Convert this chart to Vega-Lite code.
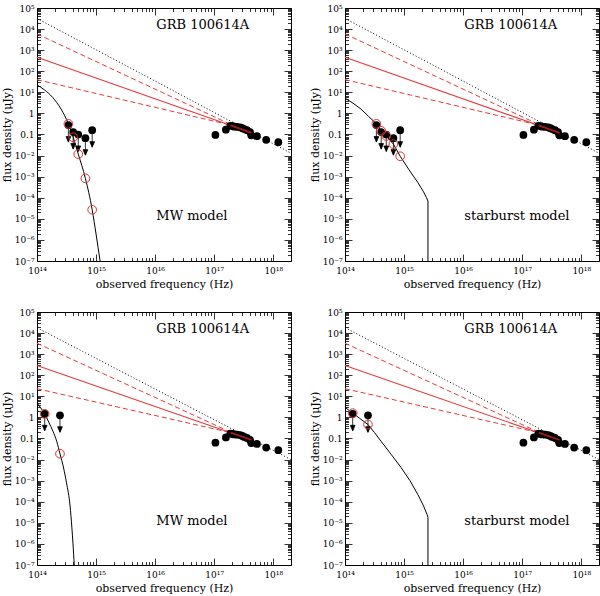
{
"$schema": "https://vega.github.io/schema/vega-lite/v6.json",
"padding": {"left": 0, "top": 3, "right": 0, "bottom": 0},
"background": "white",
"config": {
  "view": {"stroke": "black", "strokeWidth": 1},
  "font": "DejaVu Serif",
  "axis": {"grid": false, "domain": false, "tickColor": "black", "tickWidth": 0.8, "labelFont": "DejaVu Serif", "labelFontSize": 9, "labelColor": "black", "titleFont": "DejaVu Serif", "titleFontSize": 11, "titleFontWeight": "normal", "titleColor": "black", "labelFlush": false, "labelOverlap": false}
},
"columns": 2,
"spacing": {"row": 51, "column": 54},
"bounds": "flush",
"datasets": {
  "models": [
    {"set": "A", "series": "dotted", "nu": 1e14, "flux": 32000},
    {"set": "A", "series": "dotted", "nu": 2e18, "flux": 0.013},
    {"set": "A", "series": "upper", "nu": 1e14, "flux": 5900},
    {"set": "A", "series": "upper", "nu": 1.9e17, "flux": 0.3},
    {"set": "A", "series": "solid", "nu": 1e14, "flux": 457},
    {"set": "A", "series": "solid", "nu": 4.3e17, "flux": 0.12},
    {"set": "A", "series": "lower", "nu": 1e14, "flux": 40},
    {"set": "A", "series": "lower", "nu": 1.9e17, "flux": 0.28},
    {"set": "A", "series": "xfit", "nu": 1.9e17, "flux": 0.27},
    {"set": "A", "series": "xfit", "nu": 4.3e17, "flux": 0.12},
    {"set": "B", "series": "dotted", "nu": 1e14, "flux": 18000},
    {"set": "B", "series": "dotted", "nu": 2e18, "flux": 0.010},
    {"set": "B", "series": "upper", "nu": 1e14, "flux": 3300},
    {"set": "B", "series": "upper", "nu": 1.9e17, "flux": 0.2},
    {"set": "B", "series": "solid", "nu": 1e14, "flux": 290},
    {"set": "B", "series": "solid", "nu": 4.3e17, "flux": 0.085},
    {"set": "B", "series": "lower", "nu": 1e14, "flux": 23},
    {"set": "B", "series": "lower", "nu": 1.9e17, "flux": 0.19},
    {"set": "B", "series": "xfit", "nu": 1.9e17, "flux": 0.19},
    {"set": "B", "series": "xfit", "nu": 4.3e17, "flux": 0.085}
  ],
  "xray": [
    {"set": "A", "nu": 1.05e17, "flux": 0.095}, {"set": "A", "nu": 1.58e17, "flux": 0.17}, {"set": "A", "nu": 1.88e17, "flux": 0.26},
    {"set": "A", "nu": 2.05e17, "flux": 0.25}, {"set": "A", "nu": 2.19e17, "flux": 0.235}, {"set": "A", "nu": 2.45e17, "flux": 0.23},
    {"set": "A", "nu": 2.77e17, "flux": 0.22}, {"set": "A", "nu": 3.0e17, "flux": 0.2}, {"set": "A", "nu": 3.23e17, "flux": 0.18},
    {"set": "A", "nu": 3.6e17, "flux": 0.16}, {"set": "A", "nu": 4.05e17, "flux": 0.13}, {"set": "A", "nu": 4.25e17, "flux": 0.092},
    {"set": "A", "nu": 5.3e17, "flux": 0.083}, {"set": "A", "nu": 7.6e17, "flux": 0.056}, {"set": "A", "nu": 1.22e18, "flux": 0.043},
    {"set": "B", "nu": 1.05e17, "flux": 0.063}, {"set": "B", "nu": 1.58e17, "flux": 0.112}, {"set": "B", "nu": 1.88e17, "flux": 0.172},
    {"set": "B", "nu": 2.05e17, "flux": 0.165}, {"set": "B", "nu": 2.19e17, "flux": 0.155}, {"set": "B", "nu": 2.45e17, "flux": 0.152},
    {"set": "B", "nu": 2.77e17, "flux": 0.145}, {"set": "B", "nu": 3.0e17, "flux": 0.132}, {"set": "B", "nu": 3.23e17, "flux": 0.119},
    {"set": "B", "nu": 3.6e17, "flux": 0.106}, {"set": "B", "nu": 4.05e17, "flux": 0.086}, {"set": "B", "nu": 4.25e17, "flux": 0.061},
    {"set": "B", "nu": 5.3e17, "flux": 0.055}, {"set": "B", "nu": 7.6e17, "flux": 0.037}, {"set": "B", "nu": 1.22e18, "flux": 0.028}
  ],
  "limits": [
    {"set": "A", "nu": 3.4e14, "flux": 0.28}, {"set": "A", "nu": 4.1e14, "flux": 0.13}, {"set": "A", "nu": 5.0e14, "flux": 0.1},
    {"set": "A", "nu": 6.6e14, "flux": 0.067}, {"set": "A", "nu": 8.6e14, "flux": 0.16},
    {"set": "B", "nu": 1.35e14, "flux": 1.48}, {"set": "B", "nu": 2.45e14, "flux": 1.26}
  ],
  "circles": [
    {"panel": 1, "nu": 3.4e14, "flux": 0.32}, {"panel": 1, "nu": 4.1e14, "flux": 0.074}, {"panel": 1, "nu": 5.0e14, "flux": 0.0117},
    {"panel": 1, "nu": 6.6e14, "flux": 0.00083}, {"panel": 1, "nu": 8.6e14, "flux": 0.000027},
    {"panel": 2, "nu": 3.4e14, "flux": 0.32}, {"panel": 2, "nu": 4.1e14, "flux": 0.15}, {"panel": 2, "nu": 5.0e14, "flux": 0.085},
    {"panel": 2, "nu": 6.6e14, "flux": 0.035}, {"panel": 2, "nu": 8.6e14, "flux": 0.0093},
    {"panel": 3, "nu": 1.35e14, "flux": 1.48}, {"panel": 3, "nu": 2.45e14, "flux": 0.019},
    {"panel": 4, "nu": 1.35e14, "flux": 1.6}, {"panel": 4, "nu": 2.45e14, "flux": 0.46}
  ],
  "curve": [
    {"panel": 1, "nu": 1e14, "flux": 22.4}, {"panel": 1, "nu": 1.33e14, "flux": 13.3}, {"panel": 1, "nu": 1.84e14, "flux": 5.75},
    {"panel": 1, "nu": 2.55e14, "flux": 1.62}, {"panel": 1, "nu": 3.4e14, "flux": 0.32}, {"panel": 1, "nu": 4.1e14, "flux": 0.074},
    {"panel": 1, "nu": 5.0e14, "flux": 0.0117}, {"panel": 1, "nu": 6.6e14, "flux": 0.00083}, {"panel": 1, "nu": 8.6e14, "flux": 0.000027},
    {"panel": 1, "nu": 1e15, "flux": 0.0000019}, {"panel": 1, "nu": 1.17e15, "flux": 1e-7},
    {"panel": 2, "nu": 1e14, "flux": 5.25}, {"panel": 2, "nu": 1.36e14, "flux": 3.09}, {"panel": 2, "nu": 1.86e14, "flux": 1.62},
    {"panel": 2, "nu": 2.51e14, "flux": 0.72}, {"panel": 2, "nu": 3.4e14, "flux": 0.32}, {"panel": 2, "nu": 4.1e14, "flux": 0.15},
    {"panel": 2, "nu": 5.0e14, "flux": 0.085}, {"panel": 2, "nu": 6.6e14, "flux": 0.035}, {"panel": 2, "nu": 8.6e14, "flux": 0.0093},
    {"panel": 2, "nu": 1.2e15, "flux": 0.00224}, {"panel": 2, "nu": 1.7e15, "flux": 0.00054}, {"panel": 2, "nu": 2.14e15, "flux": 0.00019},
    {"panel": 2, "nu": 2.4e15, "flux": 0.0001}, {"panel": 2, "nu": 2.54e15, "flux": 0.00007}, {"panel": 2, "nu": 2.54e15, "flux": 1e-7},
    {"panel": 3, "nu": 1e14, "flux": 4.9}, {"panel": 3, "nu": 1.15e14, "flux": 2.88}, {"panel": 3, "nu": 1.35e14, "flux": 1.48},
    {"panel": 3, "nu": 1.58e14, "flux": 0.6}, {"panel": 3, "nu": 1.86e14, "flux": 0.224}, {"panel": 3, "nu": 2.16e14, "flux": 0.0724},
    {"panel": 3, "nu": 2.45e14, "flux": 0.019}, {"panel": 3, "nu": 2.82e14, "flux": 0.004}, {"panel": 3, "nu": 3.16e14, "flux": 0.00079},
    {"panel": 3, "nu": 3.63e14, "flux": 0.000063}, {"panel": 3, "nu": 3.89e14, "flux": 0.0000063}, {"panel": 3, "nu": 4.07e14, "flux": 0.000001},
    {"panel": 3, "nu": 4.27e14, "flux": 1e-7},
    {"panel": 4, "nu": 1e14, "flux": 3.02}, {"panel": 4, "nu": 1.35e14, "flux": 1.62}, {"panel": 4, "nu": 1.78e14, "flux": 0.89},
    {"panel": 4, "nu": 2.45e14, "flux": 0.46}, {"panel": 4, "nu": 3.16e14, "flux": 0.19}, {"panel": 4, "nu": 4.07e14, "flux": 0.074},
    {"panel": 4, "nu": 6.03e14, "flux": 0.0178}, {"panel": 4, "nu": 8.91e14, "flux": 0.00417}, {"panel": 4, "nu": 1.26e15, "flux": 0.001},
    {"panel": 4, "nu": 1.7e15, "flux": 0.000229}, {"panel": 4, "nu": 2.14e15, "flux": 0.000063}, {"panel": 4, "nu": 2.45e15, "flux": 0.000025},
    {"panel": 4, "nu": 2.54e15, "flux": 0.000018}, {"panel": 4, "nu": 2.54e15, "flux": 1e-7}
  ]
},
"concat": [
{
  "width": 254, "height": 253,
  "resolve": {"axis": {"x": "independent", "y": "independent"}},
  "layer": [
    {"data": {"name": "models"}, "transform": [{"filter": "datum.set == 'A' && datum.series == 'dotted'"}],
     "mark": {"type": "line", "color": "black", "strokeWidth": 1, "strokeDash": [1, 2.2]},
     "encoding": {
       "x": {"field": "nu", "type": "quantitative", "scale": {"type": "log", "domain": [1e14, 2e18], "nice": false},
             "axis": {"orient": "bottom", "values": [1e14,2e14,3e14,4e14,5e14,6e14,7e14,8e14,9e14,1e15,2e15,3e15,4e15,5e15,6e15,7e15,8e15,9e15,1e16,2e16,3e16,4e16,5e16,6e16,7e16,8e16,9e16,1e17,2e17,3e17,4e17,5e17,6e17,7e17,8e17,9e17,1e18,2e18],
                      "labelExpr": "datum.value == 1e14 ? '10¹⁴' : datum.value == 1e15 ? '10¹⁵' : datum.value == 1e16 ? '10¹⁶' : datum.value == 1e17 ? '10¹⁷' : datum.value == 1e18 ? '10¹⁸' : ''",
                      "title": "observed frequency (Hz)",
                      "tickSize": {"condition": {"test": "indexof([1e14,1e15,1e16,1e17,1e18], datum.value) >= 0", "value": -7}, "value": -3.5},
                      "labelPadding": 12, "titlePadding": 0}},
       "y": {"field": "flux", "type": "quantitative", "scale": {"type": "log", "domain": [1e-7, 100000], "nice": false},
             "axis": {"orient": "left", "values": [1e-7,2e-7,3e-7,4e-7,5e-7,6e-7,7e-7,8e-7,9e-7,1e-6,2e-6,3e-6,4e-6,5e-6,6e-6,7e-6,8e-6,9e-6,1e-5,2e-5,3e-5,4e-5,5e-5,6e-5,7e-5,8e-5,9e-5,1e-4,2e-4,3e-4,4e-4,5e-4,6e-4,7e-4,8e-4,9e-4,1e-3,2e-3,3e-3,4e-3,5e-3,6e-3,7e-3,8e-3,9e-3,1e-2,2e-2,3e-2,4e-2,5e-2,6e-2,7e-2,8e-2,9e-2,0.1,0.2,0.3,0.4,0.5,0.6,0.7,0.8,0.9,1,2,3,4,5,6,7,8,9,10,20,30,40,50,60,70,80,90,100,200,300,400,500,600,700,800,900,1000,2000,3000,4000,5000,6000,7000,8000,9000,10000,20000,30000,40000,50000,60000,70000,80000,90000,100000],
                      "labelExpr": "datum.value == 100000 ? '10⁵' : datum.value == 10000 ? '10⁴' : datum.value == 1000 ? '10³' : datum.value == 100 ? '10²' : datum.value == 10 ? '10¹' : datum.value == 1 ? '1' : datum.value == 0.1 ? '0.1' : datum.value == 0.01 ? '10⁻²' : datum.value == 0.001 ? '10⁻³' : datum.value == 0.0001 ? '10⁻⁴' : datum.value == 0.00001 ? '10⁻⁵' : datum.value == 0.000001 ? '10⁻⁶' : datum.value == 1e-7 ? '10⁻⁷' : ''",
                      "title": "flux density (μJy)",
                      "tickSize": {"condition": {"test": "indexof([1e-7,1e-6,1e-5,1e-4,1e-3,1e-2,0.1,1,10,100,1000,10000,100000], datum.value) >= 0", "value": -7}, "value": -3.5},
                      "labelPadding": 10, "titlePadding": 2}}}},
    {"data": {"name": "models"}, "transform": [{"filter": "datum.set == 'A' && (datum.series == 'upper' || datum.series == 'lower')"}],
     "mark": {"type": "line", "color": "#e33b3b", "strokeWidth": 1, "strokeDash": [5, 3]},
     "encoding": {"x": {"field": "nu", "type": "quantitative", "scale": {"type": "log", "domain": [1e14, 2e18], "nice": false}, "axis": null},
                  "y": {"field": "flux", "type": "quantitative", "scale": {"type": "log", "domain": [1e-7, 100000], "nice": false}, "axis": null},
                  "detail": {"field": "series"}}},
    {"data": {"name": "models"}, "transform": [{"filter": "datum.set == 'A' && datum.series == 'solid'"}],
     "mark": {"type": "line", "color": "#e33b3b", "strokeWidth": 1.1},
     "encoding": {"x": {"field": "nu", "type": "quantitative", "scale": {"type": "log", "domain": [1e14, 2e18], "nice": false}, "axis": null},
                  "y": {"field": "flux", "type": "quantitative", "scale": {"type": "log", "domain": [1e-7, 100000], "nice": false}, "axis": null}}},
    {"data": {"name": "curve"}, "transform": [{"filter": "datum.panel == 1"}],
     "mark": {"type": "line", "color": "black", "strokeWidth": 1, "interpolate": "monotone"},
     "encoding": {
       "x": {"field": "nu", "type": "quantitative", "scale": {"type": "log", "domain": [1e14, 2e18], "nice": false},
             "axis": {"orient": "top", "values": [1e14,2e14,3e14,4e14,5e14,6e14,7e14,8e14,9e14,1e15,2e15,3e15,4e15,5e15,6e15,7e15,8e15,9e15,1e16,2e16,3e16,4e16,5e16,6e16,7e16,8e16,9e16,1e17,2e17,3e17,4e17,5e17,6e17,7e17,8e17,9e17,1e18,2e18],
                      "labels": false, "title": null,
                      "tickSize": {"condition": {"test": "indexof([1e14,1e15,1e16,1e17,1e18], datum.value) >= 0", "value": -7}, "value": -3.5}}},
       "y": {"field": "flux", "type": "quantitative", "scale": {"type": "log", "domain": [1e-7, 100000], "nice": false},
             "axis": {"orient": "right", "values": [1e-7,2e-7,3e-7,4e-7,5e-7,6e-7,7e-7,8e-7,9e-7,1e-6,2e-6,3e-6,4e-6,5e-6,6e-6,7e-6,8e-6,9e-6,1e-5,2e-5,3e-5,4e-5,5e-5,6e-5,7e-5,8e-5,9e-5,1e-4,2e-4,3e-4,4e-4,5e-4,6e-4,7e-4,8e-4,9e-4,1e-3,2e-3,3e-3,4e-3,5e-3,6e-3,7e-3,8e-3,9e-3,1e-2,2e-2,3e-2,4e-2,5e-2,6e-2,7e-2,8e-2,9e-2,0.1,0.2,0.3,0.4,0.5,0.6,0.7,0.8,0.9,1,2,3,4,5,6,7,8,9,10,20,30,40,50,60,70,80,90,100,200,300,400,500,600,700,800,900,1000,2000,3000,4000,5000,6000,7000,8000,9000,10000,20000,30000,40000,50000,60000,70000,80000,90000,100000],
                      "labels": false, "title": null,
                      "tickSize": {"condition": {"test": "indexof([1e-7,1e-6,1e-5,1e-4,1e-3,1e-2,0.1,1,10,100,1000,10000,100000], datum.value) >= 0", "value": -7}, "value": -3.5}}},
       "order": {"value": null}}},
    {"data": {"name": "xray"}, "transform": [{"filter": "datum.set == 'A'"}],
     "mark": {"type": "point", "shape": "circle", "filled": true, "color": "black", "size": 60, "opacity": 1},
     "encoding": {"x": {"field": "nu", "type": "quantitative", "scale": {"type": "log", "domain": [1e14, 2e18], "nice": false}, "axis": null},
                  "y": {"field": "flux", "type": "quantitative", "scale": {"type": "log", "domain": [1e-7, 100000], "nice": false}, "axis": null}}},
    {"data": {"name": "limits"}, "transform": [{"filter": "datum.set == 'A'"}],
     "mark": {"type": "point", "shape": "M0,0L0,2M-0.28,1.35L0,2L0.28,1.35Z", "size": 289, "fill": "black", "stroke": "black", "strokeWidth": 0.8, "opacity": 1},
     "encoding": {"x": {"field": "nu", "type": "quantitative", "scale": {"type": "log", "domain": [1e14, 2e18], "nice": false}, "axis": null},
                  "y": {"field": "flux", "type": "quantitative", "scale": {"type": "log", "domain": [1e-7, 100000], "nice": false}, "axis": null}}},
    {"data": {"name": "limits"}, "transform": [{"filter": "datum.set == 'A'"}],
     "mark": {"type": "point", "shape": "circle", "filled": true, "color": "black", "size": 60, "opacity": 1},
     "encoding": {"x": {"field": "nu", "type": "quantitative", "scale": {"type": "log", "domain": [1e14, 2e18], "nice": false}, "axis": null},
                  "y": {"field": "flux", "type": "quantitative", "scale": {"type": "log", "domain": [1e-7, 100000], "nice": false}, "axis": null}}},
    {"data": {"name": "circles"}, "transform": [{"filter": "datum.panel == 1"}],
     "mark": {"type": "point", "shape": "circle", "filled": false, "color": "#e03030", "strokeWidth": 1, "size": 75, "opacity": 1},
     "encoding": {"x": {"field": "nu", "type": "quantitative", "scale": {"type": "log", "domain": [1e14, 2e18], "nice": false}, "axis": null},
                  "y": {"field": "flux", "type": "quantitative", "scale": {"type": "log", "domain": [1e-7, 100000], "nice": false}, "axis": null}}},
    {"data": {"name": "models"}, "transform": [{"filter": "datum.set == 'A' && datum.series == 'xfit'"}],
     "mark": {"type": "line", "color": "#a81818", "strokeWidth": 1.8},
     "encoding": {"x": {"field": "nu", "type": "quantitative", "scale": {"type": "log", "domain": [1e14, 2e18], "nice": false}, "axis": null},
                  "y": {"field": "flux", "type": "quantitative", "scale": {"type": "log", "domain": [1e-7, 100000], "nice": false}, "axis": null}}},
    {"data": {"values": [{"label": "GRB 100614A"}]},
     "mark": {"type": "text", "align": "left", "baseline": "middle", "fontSize": 13, "font": "DejaVu Serif", "color": "black"},
     "encoding": {"x": {"datum": 1.05e16, "type": "quantitative", "scale": {"type": "log", "domain": [1e14, 2e18], "nice": false}, "axis": null},
                  "y": {"datum": 16000, "type": "quantitative", "scale": {"type": "log", "domain": [1e-7, 100000], "nice": false}, "axis": null},
                  "text": {"field": "label"}}},
    {"data": {"values": [{"label": "MW model"}]},
     "mark": {"type": "text", "align": "left", "baseline": "middle", "fontSize": 13, "font": "DejaVu Serif", "color": "black"},
     "encoding": {"x": {"datum": 1.05e16, "type": "quantitative", "scale": {"type": "log", "domain": [1e14, 2e18], "nice": false}, "axis": null},
                  "y": {"datum": 0.000013, "type": "quantitative", "scale": {"type": "log", "domain": [1e-7, 100000], "nice": false}, "axis": null},
                  "text": {"field": "label"}}}
  ]
},
{
  "width": 254, "height": 253,
  "resolve": {"axis": {"x": "independent", "y": "independent"}},
  "layer": [
    {"data": {"name": "models"}, "transform": [{"filter": "datum.set == 'A' && datum.series == 'dotted'"}],
     "mark": {"type": "line", "color": "black", "strokeWidth": 1, "strokeDash": [1, 2.2]},
     "encoding": {
       "x": {"field": "nu", "type": "quantitative", "scale": {"type": "log", "domain": [1e14, 2e18], "nice": false},
             "axis": {"orient": "bottom", "values": [1e14,2e14,3e14,4e14,5e14,6e14,7e14,8e14,9e14,1e15,2e15,3e15,4e15,5e15,6e15,7e15,8e15,9e15,1e16,2e16,3e16,4e16,5e16,6e16,7e16,8e16,9e16,1e17,2e17,3e17,4e17,5e17,6e17,7e17,8e17,9e17,1e18,2e18],
                      "labelExpr": "datum.value == 1e14 ? '10¹⁴' : datum.value == 1e15 ? '10¹⁵' : datum.value == 1e16 ? '10¹⁶' : datum.value == 1e17 ? '10¹⁷' : datum.value == 1e18 ? '10¹⁸' : ''",
                      "title": "observed frequency (Hz)",
                      "tickSize": {"condition": {"test": "indexof([1e14,1e15,1e16,1e17,1e18], datum.value) >= 0", "value": -7}, "value": -3.5},
                      "labelPadding": 12, "titlePadding": 0}},
       "y": {"field": "flux", "type": "quantitative", "scale": {"type": "log", "domain": [1e-7, 100000], "nice": false},
             "axis": {"orient": "left", "values": [1e-7,2e-7,3e-7,4e-7,5e-7,6e-7,7e-7,8e-7,9e-7,1e-6,2e-6,3e-6,4e-6,5e-6,6e-6,7e-6,8e-6,9e-6,1e-5,2e-5,3e-5,4e-5,5e-5,6e-5,7e-5,8e-5,9e-5,1e-4,2e-4,3e-4,4e-4,5e-4,6e-4,7e-4,8e-4,9e-4,1e-3,2e-3,3e-3,4e-3,5e-3,6e-3,7e-3,8e-3,9e-3,1e-2,2e-2,3e-2,4e-2,5e-2,6e-2,7e-2,8e-2,9e-2,0.1,0.2,0.3,0.4,0.5,0.6,0.7,0.8,0.9,1,2,3,4,5,6,7,8,9,10,20,30,40,50,60,70,80,90,100,200,300,400,500,600,700,800,900,1000,2000,3000,4000,5000,6000,7000,8000,9000,10000,20000,30000,40000,50000,60000,70000,80000,90000,100000],
                      "labelExpr": "datum.value == 100000 ? '10⁵' : datum.value == 10000 ? '10⁴' : datum.value == 1000 ? '10³' : datum.value == 100 ? '10²' : datum.value == 10 ? '10¹' : datum.value == 1 ? '1' : datum.value == 0.1 ? '0.1' : datum.value == 0.01 ? '10⁻²' : datum.value == 0.001 ? '10⁻³' : datum.value == 0.0001 ? '10⁻⁴' : datum.value == 0.00001 ? '10⁻⁵' : datum.value == 0.000001 ? '10⁻⁶' : datum.value == 1e-7 ? '10⁻⁷' : ''",
                      "title": "flux density (μJy)",
                      "tickSize": {"condition": {"test": "indexof([1e-7,1e-6,1e-5,1e-4,1e-3,1e-2,0.1,1,10,100,1000,10000,100000], datum.value) >= 0", "value": -7}, "value": -3.5},
                      "labelPadding": 10, "titlePadding": 2}}}},
    {"data": {"name": "models"}, "transform": [{"filter": "datum.set == 'A' && (datum.series == 'upper' || datum.series == 'lower')"}],
     "mark": {"type": "line", "color": "#e33b3b", "strokeWidth": 1, "strokeDash": [5, 3]},
     "encoding": {"x": {"field": "nu", "type": "quantitative", "scale": {"type": "log", "domain": [1e14, 2e18], "nice": false}, "axis": null},
                  "y": {"field": "flux", "type": "quantitative", "scale": {"type": "log", "domain": [1e-7, 100000], "nice": false}, "axis": null},
                  "detail": {"field": "series"}}},
    {"data": {"name": "models"}, "transform": [{"filter": "datum.set == 'A' && datum.series == 'solid'"}],
     "mark": {"type": "line", "color": "#e33b3b", "strokeWidth": 1.1},
     "encoding": {"x": {"field": "nu", "type": "quantitative", "scale": {"type": "log", "domain": [1e14, 2e18], "nice": false}, "axis": null},
                  "y": {"field": "flux", "type": "quantitative", "scale": {"type": "log", "domain": [1e-7, 100000], "nice": false}, "axis": null}}},
    {"data": {"name": "curve"}, "transform": [{"filter": "datum.panel == 2"}],
     "mark": {"type": "line", "color": "black", "strokeWidth": 1},
     "encoding": {
       "x": {"field": "nu", "type": "quantitative", "scale": {"type": "log", "domain": [1e14, 2e18], "nice": false},
             "axis": {"orient": "top", "values": [1e14,2e14,3e14,4e14,5e14,6e14,7e14,8e14,9e14,1e15,2e15,3e15,4e15,5e15,6e15,7e15,8e15,9e15,1e16,2e16,3e16,4e16,5e16,6e16,7e16,8e16,9e16,1e17,2e17,3e17,4e17,5e17,6e17,7e17,8e17,9e17,1e18,2e18],
                      "labels": false, "title": null,
                      "tickSize": {"condition": {"test": "indexof([1e14,1e15,1e16,1e17,1e18], datum.value) >= 0", "value": -7}, "value": -3.5}}},
       "y": {"field": "flux", "type": "quantitative", "scale": {"type": "log", "domain": [1e-7, 100000], "nice": false},
             "axis": {"orient": "right", "values": [1e-7,2e-7,3e-7,4e-7,5e-7,6e-7,7e-7,8e-7,9e-7,1e-6,2e-6,3e-6,4e-6,5e-6,6e-6,7e-6,8e-6,9e-6,1e-5,2e-5,3e-5,4e-5,5e-5,6e-5,7e-5,8e-5,9e-5,1e-4,2e-4,3e-4,4e-4,5e-4,6e-4,7e-4,8e-4,9e-4,1e-3,2e-3,3e-3,4e-3,5e-3,6e-3,7e-3,8e-3,9e-3,1e-2,2e-2,3e-2,4e-2,5e-2,6e-2,7e-2,8e-2,9e-2,0.1,0.2,0.3,0.4,0.5,0.6,0.7,0.8,0.9,1,2,3,4,5,6,7,8,9,10,20,30,40,50,60,70,80,90,100,200,300,400,500,600,700,800,900,1000,2000,3000,4000,5000,6000,7000,8000,9000,10000,20000,30000,40000,50000,60000,70000,80000,90000,100000],
                      "labels": false, "title": null,
                      "tickSize": {"condition": {"test": "indexof([1e-7,1e-6,1e-5,1e-4,1e-3,1e-2,0.1,1,10,100,1000,10000,100000], datum.value) >= 0", "value": -7}, "value": -3.5}}},
       "order": {"value": null}}},
    {"data": {"name": "xray"}, "transform": [{"filter": "datum.set == 'A'"}],
     "mark": {"type": "point", "shape": "circle", "filled": true, "color": "black", "size": 60, "opacity": 1},
     "encoding": {"x": {"field": "nu", "type": "quantitative", "scale": {"type": "log", "domain": [1e14, 2e18], "nice": false}, "axis": null},
                  "y": {"field": "flux", "type": "quantitative", "scale": {"type": "log", "domain": [1e-7, 100000], "nice": false}, "axis": null}}},
    {"data": {"name": "limits"}, "transform": [{"filter": "datum.set == 'A'"}],
     "mark": {"type": "point", "shape": "M0,0L0,2M-0.28,1.35L0,2L0.28,1.35Z", "size": 289, "fill": "black", "stroke": "black", "strokeWidth": 0.8, "opacity": 1},
     "encoding": {"x": {"field": "nu", "type": "quantitative", "scale": {"type": "log", "domain": [1e14, 2e18], "nice": false}, "axis": null},
                  "y": {"field": "flux", "type": "quantitative", "scale": {"type": "log", "domain": [1e-7, 100000], "nice": false}, "axis": null}}},
    {"data": {"name": "limits"}, "transform": [{"filter": "datum.set == 'A'"}],
     "mark": {"type": "point", "shape": "circle", "filled": true, "color": "black", "size": 60, "opacity": 1},
     "encoding": {"x": {"field": "nu", "type": "quantitative", "scale": {"type": "log", "domain": [1e14, 2e18], "nice": false}, "axis": null},
                  "y": {"field": "flux", "type": "quantitative", "scale": {"type": "log", "domain": [1e-7, 100000], "nice": false}, "axis": null}}},
    {"data": {"name": "circles"}, "transform": [{"filter": "datum.panel == 2"}],
     "mark": {"type": "point", "shape": "circle", "filled": false, "color": "#e03030", "strokeWidth": 1, "size": 75, "opacity": 1},
     "encoding": {"x": {"field": "nu", "type": "quantitative", "scale": {"type": "log", "domain": [1e14, 2e18], "nice": false}, "axis": null},
                  "y": {"field": "flux", "type": "quantitative", "scale": {"type": "log", "domain": [1e-7, 100000], "nice": false}, "axis": null}}},
    {"data": {"name": "models"}, "transform": [{"filter": "datum.set == 'A' && datum.series == 'xfit'"}],
     "mark": {"type": "line", "color": "#a81818", "strokeWidth": 1.8},
     "encoding": {"x": {"field": "nu", "type": "quantitative", "scale": {"type": "log", "domain": [1e14, 2e18], "nice": false}, "axis": null},
                  "y": {"field": "flux", "type": "quantitative", "scale": {"type": "log", "domain": [1e-7, 100000], "nice": false}, "axis": null}}},
    {"data": {"values": [{"label": "GRB 100614A"}]},
     "mark": {"type": "text", "align": "left", "baseline": "middle", "fontSize": 13, "font": "DejaVu Serif", "color": "black"},
     "encoding": {"x": {"datum": 1.05e16, "type": "quantitative", "scale": {"type": "log", "domain": [1e14, 2e18], "nice": false}, "axis": null},
                  "y": {"datum": 16000, "type": "quantitative", "scale": {"type": "log", "domain": [1e-7, 100000], "nice": false}, "axis": null},
                  "text": {"field": "label"}}},
    {"data": {"values": [{"label": "starburst model"}]},
     "mark": {"type": "text", "align": "left", "baseline": "middle", "fontSize": 13, "font": "DejaVu Serif", "color": "black"},
     "encoding": {"x": {"datum": 1.05e16, "type": "quantitative", "scale": {"type": "log", "domain": [1e14, 2e18], "nice": false}, "axis": null},
                  "y": {"datum": 0.000013, "type": "quantitative", "scale": {"type": "log", "domain": [1e-7, 100000], "nice": false}, "axis": null},
                  "text": {"field": "label"}}}
  ]
},
{
  "width": 254, "height": 253,
  "resolve": {"axis": {"x": "independent", "y": "independent"}},
  "layer": [
    {"data": {"name": "models"}, "transform": [{"filter": "datum.set == 'B' && datum.series == 'dotted'"}],
     "mark": {"type": "line", "color": "black", "strokeWidth": 1, "strokeDash": [1, 2.2]},
     "encoding": {
       "x": {"field": "nu", "type": "quantitative", "scale": {"type": "log", "domain": [1e14, 2e18], "nice": false},
             "axis": {"orient": "bottom", "values": [1e14,2e14,3e14,4e14,5e14,6e14,7e14,8e14,9e14,1e15,2e15,3e15,4e15,5e15,6e15,7e15,8e15,9e15,1e16,2e16,3e16,4e16,5e16,6e16,7e16,8e16,9e16,1e17,2e17,3e17,4e17,5e17,6e17,7e17,8e17,9e17,1e18,2e18],
                      "labelExpr": "datum.value == 1e14 ? '10¹⁴' : datum.value == 1e15 ? '10¹⁵' : datum.value == 1e16 ? '10¹⁶' : datum.value == 1e17 ? '10¹⁷' : datum.value == 1e18 ? '10¹⁸' : ''",
                      "title": "observed frequency (Hz)",
                      "tickSize": {"condition": {"test": "indexof([1e14,1e15,1e16,1e17,1e18], datum.value) >= 0", "value": -7}, "value": -3.5},
                      "labelPadding": 12, "titlePadding": 0}},
       "y": {"field": "flux", "type": "quantitative", "scale": {"type": "log", "domain": [1e-7, 100000], "nice": false},
             "axis": {"orient": "left", "values": [1e-7,2e-7,3e-7,4e-7,5e-7,6e-7,7e-7,8e-7,9e-7,1e-6,2e-6,3e-6,4e-6,5e-6,6e-6,7e-6,8e-6,9e-6,1e-5,2e-5,3e-5,4e-5,5e-5,6e-5,7e-5,8e-5,9e-5,1e-4,2e-4,3e-4,4e-4,5e-4,6e-4,7e-4,8e-4,9e-4,1e-3,2e-3,3e-3,4e-3,5e-3,6e-3,7e-3,8e-3,9e-3,1e-2,2e-2,3e-2,4e-2,5e-2,6e-2,7e-2,8e-2,9e-2,0.1,0.2,0.3,0.4,0.5,0.6,0.7,0.8,0.9,1,2,3,4,5,6,7,8,9,10,20,30,40,50,60,70,80,90,100,200,300,400,500,600,700,800,900,1000,2000,3000,4000,5000,6000,7000,8000,9000,10000,20000,30000,40000,50000,60000,70000,80000,90000,100000],
                      "labelExpr": "datum.value == 100000 ? '10⁵' : datum.value == 10000 ? '10⁴' : datum.value == 1000 ? '10³' : datum.value == 100 ? '10²' : datum.value == 10 ? '10¹' : datum.value == 1 ? '1' : datum.value == 0.1 ? '0.1' : datum.value == 0.01 ? '10⁻²' : datum.value == 0.001 ? '10⁻³' : datum.value == 0.0001 ? '10⁻⁴' : datum.value == 0.00001 ? '10⁻⁵' : datum.value == 0.000001 ? '10⁻⁶' : datum.value == 1e-7 ? '10⁻⁷' : ''",
                      "title": "flux density (μJy)",
                      "tickSize": {"condition": {"test": "indexof([1e-7,1e-6,1e-5,1e-4,1e-3,1e-2,0.1,1,10,100,1000,10000,100000], datum.value) >= 0", "value": -7}, "value": -3.5},
                      "labelPadding": 10, "titlePadding": 2}}}},
    {"data": {"name": "models"}, "transform": [{"filter": "datum.set == 'B' && (datum.series == 'upper' || datum.series == 'lower')"}],
     "mark": {"type": "line", "color": "#e33b3b", "strokeWidth": 1, "strokeDash": [5, 3]},
     "encoding": {"x": {"field": "nu", "type": "quantitative", "scale": {"type": "log", "domain": [1e14, 2e18], "nice": false}, "axis": null},
                  "y": {"field": "flux", "type": "quantitative", "scale": {"type": "log", "domain": [1e-7, 100000], "nice": false}, "axis": null},
                  "detail": {"field": "series"}}},
    {"data": {"name": "models"}, "transform": [{"filter": "datum.set == 'B' && datum.series == 'solid'"}],
     "mark": {"type": "line", "color": "#e33b3b", "strokeWidth": 1.1},
     "encoding": {"x": {"field": "nu", "type": "quantitative", "scale": {"type": "log", "domain": [1e14, 2e18], "nice": false}, "axis": null},
                  "y": {"field": "flux", "type": "quantitative", "scale": {"type": "log", "domain": [1e-7, 100000], "nice": false}, "axis": null}}},
    {"data": {"name": "curve"}, "transform": [{"filter": "datum.panel == 3"}],
     "mark": {"type": "line", "color": "black", "strokeWidth": 1, "interpolate": "monotone"},
     "encoding": {
       "x": {"field": "nu", "type": "quantitative", "scale": {"type": "log", "domain": [1e14, 2e18], "nice": false},
             "axis": {"orient": "top", "values": [1e14,2e14,3e14,4e14,5e14,6e14,7e14,8e14,9e14,1e15,2e15,3e15,4e15,5e15,6e15,7e15,8e15,9e15,1e16,2e16,3e16,4e16,5e16,6e16,7e16,8e16,9e16,1e17,2e17,3e17,4e17,5e17,6e17,7e17,8e17,9e17,1e18,2e18],
                      "labels": false, "title": null,
                      "tickSize": {"condition": {"test": "indexof([1e14,1e15,1e16,1e17,1e18], datum.value) >= 0", "value": -7}, "value": -3.5}}},
       "y": {"field": "flux", "type": "quantitative", "scale": {"type": "log", "domain": [1e-7, 100000], "nice": false},
             "axis": {"orient": "right", "values": [1e-7,2e-7,3e-7,4e-7,5e-7,6e-7,7e-7,8e-7,9e-7,1e-6,2e-6,3e-6,4e-6,5e-6,6e-6,7e-6,8e-6,9e-6,1e-5,2e-5,3e-5,4e-5,5e-5,6e-5,7e-5,8e-5,9e-5,1e-4,2e-4,3e-4,4e-4,5e-4,6e-4,7e-4,8e-4,9e-4,1e-3,2e-3,3e-3,4e-3,5e-3,6e-3,7e-3,8e-3,9e-3,1e-2,2e-2,3e-2,4e-2,5e-2,6e-2,7e-2,8e-2,9e-2,0.1,0.2,0.3,0.4,0.5,0.6,0.7,0.8,0.9,1,2,3,4,5,6,7,8,9,10,20,30,40,50,60,70,80,90,100,200,300,400,500,600,700,800,900,1000,2000,3000,4000,5000,6000,7000,8000,9000,10000,20000,30000,40000,50000,60000,70000,80000,90000,100000],
                      "labels": false, "title": null,
                      "tickSize": {"condition": {"test": "indexof([1e-7,1e-6,1e-5,1e-4,1e-3,1e-2,0.1,1,10,100,1000,10000,100000], datum.value) >= 0", "value": -7}, "value": -3.5}}},
       "order": {"value": null}}},
    {"data": {"name": "xray"}, "transform": [{"filter": "datum.set == 'B'"}],
     "mark": {"type": "point", "shape": "circle", "filled": true, "color": "black", "size": 60, "opacity": 1},
     "encoding": {"x": {"field": "nu", "type": "quantitative", "scale": {"type": "log", "domain": [1e14, 2e18], "nice": false}, "axis": null},
                  "y": {"field": "flux", "type": "quantitative", "scale": {"type": "log", "domain": [1e-7, 100000], "nice": false}, "axis": null}}},
    {"data": {"name": "limits"}, "transform": [{"filter": "datum.set == 'B'"}],
     "mark": {"type": "point", "shape": "M0,0L0,2M-0.28,1.35L0,2L0.28,1.35Z", "size": 289, "fill": "black", "stroke": "black", "strokeWidth": 0.8, "opacity": 1},
     "encoding": {"x": {"field": "nu", "type": "quantitative", "scale": {"type": "log", "domain": [1e14, 2e18], "nice": false}, "axis": null},
                  "y": {"field": "flux", "type": "quantitative", "scale": {"type": "log", "domain": [1e-7, 100000], "nice": false}, "axis": null}}},
    {"data": {"name": "limits"}, "transform": [{"filter": "datum.set == 'B'"}],
     "mark": {"type": "point", "shape": "circle", "filled": true, "color": "black", "size": 60, "opacity": 1},
     "encoding": {"x": {"field": "nu", "type": "quantitative", "scale": {"type": "log", "domain": [1e14, 2e18], "nice": false}, "axis": null},
                  "y": {"field": "flux", "type": "quantitative", "scale": {"type": "log", "domain": [1e-7, 100000], "nice": false}, "axis": null}}},
    {"data": {"name": "circles"}, "transform": [{"filter": "datum.panel == 3"}],
     "mark": {"type": "point", "shape": "circle", "filled": false, "color": "#e03030", "strokeWidth": 1, "size": 75, "opacity": 1},
     "encoding": {"x": {"field": "nu", "type": "quantitative", "scale": {"type": "log", "domain": [1e14, 2e18], "nice": false}, "axis": null},
                  "y": {"field": "flux", "type": "quantitative", "scale": {"type": "log", "domain": [1e-7, 100000], "nice": false}, "axis": null}}},
    {"data": {"name": "models"}, "transform": [{"filter": "datum.set == 'B' && datum.series == 'xfit'"}],
     "mark": {"type": "line", "color": "#a81818", "strokeWidth": 1.8},
     "encoding": {"x": {"field": "nu", "type": "quantitative", "scale": {"type": "log", "domain": [1e14, 2e18], "nice": false}, "axis": null},
                  "y": {"field": "flux", "type": "quantitative", "scale": {"type": "log", "domain": [1e-7, 100000], "nice": false}, "axis": null}}},
    {"data": {"values": [{"label": "GRB 100614A"}]},
     "mark": {"type": "text", "align": "left", "baseline": "middle", "fontSize": 13, "font": "DejaVu Serif", "color": "black"},
     "encoding": {"x": {"datum": 1.05e16, "type": "quantitative", "scale": {"type": "log", "domain": [1e14, 2e18], "nice": false}, "axis": null},
                  "y": {"datum": 15000, "type": "quantitative", "scale": {"type": "log", "domain": [1e-7, 100000], "nice": false}, "axis": null},
                  "text": {"field": "label"}}},
    {"data": {"values": [{"label": "MW model"}]},
     "mark": {"type": "text", "align": "left", "baseline": "middle", "fontSize": 13, "font": "DejaVu Serif", "color": "black"},
     "encoding": {"x": {"datum": 1.05e16, "type": "quantitative", "scale": {"type": "log", "domain": [1e14, 2e18], "nice": false}, "axis": null},
                  "y": {"datum": 0.000012, "type": "quantitative", "scale": {"type": "log", "domain": [1e-7, 100000], "nice": false}, "axis": null},
                  "text": {"field": "label"}}}
  ]
},
{
  "width": 254, "height": 253,
  "resolve": {"axis": {"x": "independent", "y": "independent"}},
  "layer": [
    {"data": {"name": "models"}, "transform": [{"filter": "datum.set == 'B' && datum.series == 'dotted'"}],
     "mark": {"type": "line", "color": "black", "strokeWidth": 1, "strokeDash": [1, 2.2]},
     "encoding": {
       "x": {"field": "nu", "type": "quantitative", "scale": {"type": "log", "domain": [1e14, 2e18], "nice": false},
             "axis": {"orient": "bottom", "values": [1e14,2e14,3e14,4e14,5e14,6e14,7e14,8e14,9e14,1e15,2e15,3e15,4e15,5e15,6e15,7e15,8e15,9e15,1e16,2e16,3e16,4e16,5e16,6e16,7e16,8e16,9e16,1e17,2e17,3e17,4e17,5e17,6e17,7e17,8e17,9e17,1e18,2e18],
                      "labelExpr": "datum.value == 1e14 ? '10¹⁴' : datum.value == 1e15 ? '10¹⁵' : datum.value == 1e16 ? '10¹⁶' : datum.value == 1e17 ? '10¹⁷' : datum.value == 1e18 ? '10¹⁸' : ''",
                      "title": "observed frequency (Hz)",
                      "tickSize": {"condition": {"test": "indexof([1e14,1e15,1e16,1e17,1e18], datum.value) >= 0", "value": -7}, "value": -3.5},
                      "labelPadding": 12, "titlePadding": 0}},
       "y": {"field": "flux", "type": "quantitative", "scale": {"type": "log", "domain": [1e-7, 100000], "nice": false},
             "axis": {"orient": "left", "values": [1e-7,2e-7,3e-7,4e-7,5e-7,6e-7,7e-7,8e-7,9e-7,1e-6,2e-6,3e-6,4e-6,5e-6,6e-6,7e-6,8e-6,9e-6,1e-5,2e-5,3e-5,4e-5,5e-5,6e-5,7e-5,8e-5,9e-5,1e-4,2e-4,3e-4,4e-4,5e-4,6e-4,7e-4,8e-4,9e-4,1e-3,2e-3,3e-3,4e-3,5e-3,6e-3,7e-3,8e-3,9e-3,1e-2,2e-2,3e-2,4e-2,5e-2,6e-2,7e-2,8e-2,9e-2,0.1,0.2,0.3,0.4,0.5,0.6,0.7,0.8,0.9,1,2,3,4,5,6,7,8,9,10,20,30,40,50,60,70,80,90,100,200,300,400,500,600,700,800,900,1000,2000,3000,4000,5000,6000,7000,8000,9000,10000,20000,30000,40000,50000,60000,70000,80000,90000,100000],
                      "labelExpr": "datum.value == 100000 ? '10⁵' : datum.value == 10000 ? '10⁴' : datum.value == 1000 ? '10³' : datum.value == 100 ? '10²' : datum.value == 10 ? '10¹' : datum.value == 1 ? '1' : datum.value == 0.1 ? '0.1' : datum.value == 0.01 ? '10⁻²' : datum.value == 0.001 ? '10⁻³' : datum.value == 0.0001 ? '10⁻⁴' : datum.value == 0.00001 ? '10⁻⁵' : datum.value == 0.000001 ? '10⁻⁶' : datum.value == 1e-7 ? '10⁻⁷' : ''",
                      "title": "flux density (μJy)",
                      "tickSize": {"condition": {"test": "indexof([1e-7,1e-6,1e-5,1e-4,1e-3,1e-2,0.1,1,10,100,1000,10000,100000], datum.value) >= 0", "value": -7}, "value": -3.5},
                      "labelPadding": 10, "titlePadding": 2}}}},
    {"data": {"name": "models"}, "transform": [{"filter": "datum.set == 'B' && (datum.series == 'upper' || datum.series == 'lower')"}],
     "mark": {"type": "line", "color": "#e33b3b", "strokeWidth": 1, "strokeDash": [5, 3]},
     "encoding": {"x": {"field": "nu", "type": "quantitative", "scale": {"type": "log", "domain": [1e14, 2e18], "nice": false}, "axis": null},
                  "y": {"field": "flux", "type": "quantitative", "scale": {"type": "log", "domain": [1e-7, 100000], "nice": false}, "axis": null},
                  "detail": {"field": "series"}}},
    {"data": {"name": "models"}, "transform": [{"filter": "datum.set == 'B' && datum.series == 'solid'"}],
     "mark": {"type": "line", "color": "#e33b3b", "strokeWidth": 1.1},
     "encoding": {"x": {"field": "nu", "type": "quantitative", "scale": {"type": "log", "domain": [1e14, 2e18], "nice": false}, "axis": null},
                  "y": {"field": "flux", "type": "quantitative", "scale": {"type": "log", "domain": [1e-7, 100000], "nice": false}, "axis": null}}},
    {"data": {"name": "curve"}, "transform": [{"filter": "datum.panel == 4"}],
     "mark": {"type": "line", "color": "black", "strokeWidth": 1},
     "encoding": {
       "x": {"field": "nu", "type": "quantitative", "scale": {"type": "log", "domain": [1e14, 2e18], "nice": false},
             "axis": {"orient": "top", "values": [1e14,2e14,3e14,4e14,5e14,6e14,7e14,8e14,9e14,1e15,2e15,3e15,4e15,5e15,6e15,7e15,8e15,9e15,1e16,2e16,3e16,4e16,5e16,6e16,7e16,8e16,9e16,1e17,2e17,3e17,4e17,5e17,6e17,7e17,8e17,9e17,1e18,2e18],
                      "labels": false, "title": null,
                      "tickSize": {"condition": {"test": "indexof([1e14,1e15,1e16,1e17,1e18], datum.value) >= 0", "value": -7}, "value": -3.5}}},
       "y": {"field": "flux", "type": "quantitative", "scale": {"type": "log", "domain": [1e-7, 100000], "nice": false},
             "axis": {"orient": "right", "values": [1e-7,2e-7,3e-7,4e-7,5e-7,6e-7,7e-7,8e-7,9e-7,1e-6,2e-6,3e-6,4e-6,5e-6,6e-6,7e-6,8e-6,9e-6,1e-5,2e-5,3e-5,4e-5,5e-5,6e-5,7e-5,8e-5,9e-5,1e-4,2e-4,3e-4,4e-4,5e-4,6e-4,7e-4,8e-4,9e-4,1e-3,2e-3,3e-3,4e-3,5e-3,6e-3,7e-3,8e-3,9e-3,1e-2,2e-2,3e-2,4e-2,5e-2,6e-2,7e-2,8e-2,9e-2,0.1,0.2,0.3,0.4,0.5,0.6,0.7,0.8,0.9,1,2,3,4,5,6,7,8,9,10,20,30,40,50,60,70,80,90,100,200,300,400,500,600,700,800,900,1000,2000,3000,4000,5000,6000,7000,8000,9000,10000,20000,30000,40000,50000,60000,70000,80000,90000,100000],
                      "labels": false, "title": null,
                      "tickSize": {"condition": {"test": "indexof([1e-7,1e-6,1e-5,1e-4,1e-3,1e-2,0.1,1,10,100,1000,10000,100000], datum.value) >= 0", "value": -7}, "value": -3.5}}},
       "order": {"value": null}}},
    {"data": {"name": "xray"}, "transform": [{"filter": "datum.set == 'B'"}],
     "mark": {"type": "point", "shape": "circle", "filled": true, "color": "black", "size": 60, "opacity": 1},
     "encoding": {"x": {"field": "nu", "type": "quantitative", "scale": {"type": "log", "domain": [1e14, 2e18], "nice": false}, "axis": null},
                  "y": {"field": "flux", "type": "quantitative", "scale": {"type": "log", "domain": [1e-7, 100000], "nice": false}, "axis": null}}},
    {"data": {"name": "limits"}, "transform": [{"filter": "datum.set == 'B'"}],
     "mark": {"type": "point", "shape": "M0,0L0,2M-0.28,1.35L0,2L0.28,1.35Z", "size": 289, "fill": "black", "stroke": "black", "strokeWidth": 0.8, "opacity": 1},
     "encoding": {"x": {"field": "nu", "type": "quantitative", "scale": {"type": "log", "domain": [1e14, 2e18], "nice": false}, "axis": null},
                  "y": {"field": "flux", "type": "quantitative", "scale": {"type": "log", "domain": [1e-7, 100000], "nice": false}, "axis": null}}},
    {"data": {"name": "limits"}, "transform": [{"filter": "datum.set == 'B'"}],
     "mark": {"type": "point", "shape": "circle", "filled": true, "color": "black", "size": 60, "opacity": 1},
     "encoding": {"x": {"field": "nu", "type": "quantitative", "scale": {"type": "log", "domain": [1e14, 2e18], "nice": false}, "axis": null},
                  "y": {"field": "flux", "type": "quantitative", "scale": {"type": "log", "domain": [1e-7, 100000], "nice": false}, "axis": null}}},
    {"data": {"name": "circles"}, "transform": [{"filter": "datum.panel == 4"}],
     "mark": {"type": "point", "shape": "circle", "filled": false, "color": "#e03030", "strokeWidth": 1, "size": 75, "opacity": 1},
     "encoding": {"x": {"field": "nu", "type": "quantitative", "scale": {"type": "log", "domain": [1e14, 2e18], "nice": false}, "axis": null},
                  "y": {"field": "flux", "type": "quantitative", "scale": {"type": "log", "domain": [1e-7, 100000], "nice": false}, "axis": null}}},
    {"data": {"name": "models"}, "transform": [{"filter": "datum.set == 'B' && datum.series == 'xfit'"}],
     "mark": {"type": "line", "color": "#a81818", "strokeWidth": 1.8},
     "encoding": {"x": {"field": "nu", "type": "quantitative", "scale": {"type": "log", "domain": [1e14, 2e18], "nice": false}, "axis": null},
                  "y": {"field": "flux", "type": "quantitative", "scale": {"type": "log", "domain": [1e-7, 100000], "nice": false}, "axis": null}}},
    {"data": {"values": [{"label": "GRB 100614A"}]},
     "mark": {"type": "text", "align": "left", "baseline": "middle", "fontSize": 13, "font": "DejaVu Serif", "color": "black"},
     "encoding": {"x": {"datum": 1.05e16, "type": "quantitative", "scale": {"type": "log", "domain": [1e14, 2e18], "nice": false}, "axis": null},
                  "y": {"datum": 15000, "type": "quantitative", "scale": {"type": "log", "domain": [1e-7, 100000], "nice": false}, "axis": null},
                  "text": {"field": "label"}}},
    {"data": {"values": [{"label": "starburst model"}]},
     "mark": {"type": "text", "align": "left", "baseline": "middle", "fontSize": 13, "font": "DejaVu Serif", "color": "black"},
     "encoding": {"x": {"datum": 1.05e16, "type": "quantitative", "scale": {"type": "log", "domain": [1e14, 2e18], "nice": false}, "axis": null},
                  "y": {"datum": 0.000012, "type": "quantitative", "scale": {"type": "log", "domain": [1e-7, 100000], "nice": false}, "axis": null},
                  "text": {"field": "label"}}}
  ]
}
]
}
